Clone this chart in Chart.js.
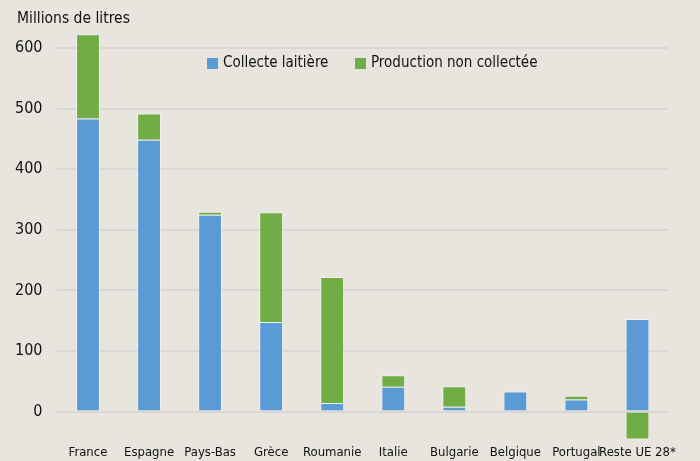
<!DOCTYPE html>
<html>
<head>
<meta charset="utf-8">
<script src="https://cdn.jsdelivr.net/npm/chart.js@4"></script>
<style>
  html, body { margin: 0; padding: 0; background: #e8e5df; }
</style>
</head>
<body>
<canvas id="lait-chart" width="700" height="461"></canvas>
<script>
const pays = ['France', 'Espagne', 'Pays-Bas', 'Grèce', 'Roumanie', 'Italie', 'Bulgarie', 'Belgique', 'Portugal', 'Reste UE 28*'];
const collecte = [484, 449, 325, 148, 14, 41, 8, 33, 20, 153];
const nonCollectee = [139, 43, 5, 181, 208, 19, 34, 0, 6, -46];
const yTicks = [0, 100, 200, 300, 400, 500, 600];
const uniteY = 'Millions de litres';

const police = "'DejaVu Sans Condensed', 'Liberation Sans', sans-serif";
Chart.defaults.font.family = police;
Chart.defaults.color = '#111';

// unit label top-left + legend drawn inside the plot, near the top
const enTete = {
  id: 'enTete',
  afterDraw(chart) {
    const ctx = chart.ctx;
    ctx.save();
    ctx.fillStyle = '#111';
    ctx.textBaseline = 'middle';
    ctx.textAlign = 'left';
    ctx.font = "15.5px " + police;
    ctx.fillText(uniteY, 17, 19);

    const posX = [207, 355];
    chart.data.datasets.forEach((ds, i) => {
      ctx.fillStyle = ds.backgroundColor;
      ctx.fillRect(posX[i], 58, 11, 11);
      ctx.fillStyle = '#111';
      ctx.font = "15px " + police;
      ctx.fillText(ds.label, posX[i] + 16, 63);
    });
    ctx.restore();
  }
};

const laitChart = document.getElementById('lait-chart');

new Chart(laitChart, {
  type: 'bar',
  data: {
    labels: pays,
    datasets: [{
      label: 'Collecte laitière',
      data: collecte,
      backgroundColor: '#5b9bd5',
      borderColor: 'rgba(255,255,255,0.45)',
      borderWidth: 1,
      clip: false
    }, {
      label: 'Production non collectée',
      data: nonCollectee,
      backgroundColor: '#70ad47',
      borderColor: 'rgba(255,255,255,0.45)',
      borderWidth: 1,
      clip: false
    }]
  },
  options: {
    responsive: false,
    animation: false,
    layout: { padding: { left: 0, right: 32, top: 30, bottom: 0 } },
    datasets: { bar: { barPercentage: 0.39, categoryPercentage: 1 } },
    plugins: {
      legend: { display: false },
      tooltip: { enabled: false }
    },
    scales: {
      x: {
        stacked: true,
        grid: { display: false },
        border: { display: false },
        ticks: { font: { size: 13 }, padding: 0, maxRotation: 0, autoSkip: false }
      },
      y: {
        stacked: true,
        min: -41,
        max: 630,
        afterBuildTicks: axis => {
          axis.ticks = yTicks.map(v => ({ value: v }));
        },
        grid: { color: '#d9d7d3', lineWidth: 2, drawTicks: false },
        border: { display: false },
        ticks: { font: { size: 16 }, padding: 15 }
      }
    }
  },
  plugins: [enTete]
});
</script>
</body>
</html>
